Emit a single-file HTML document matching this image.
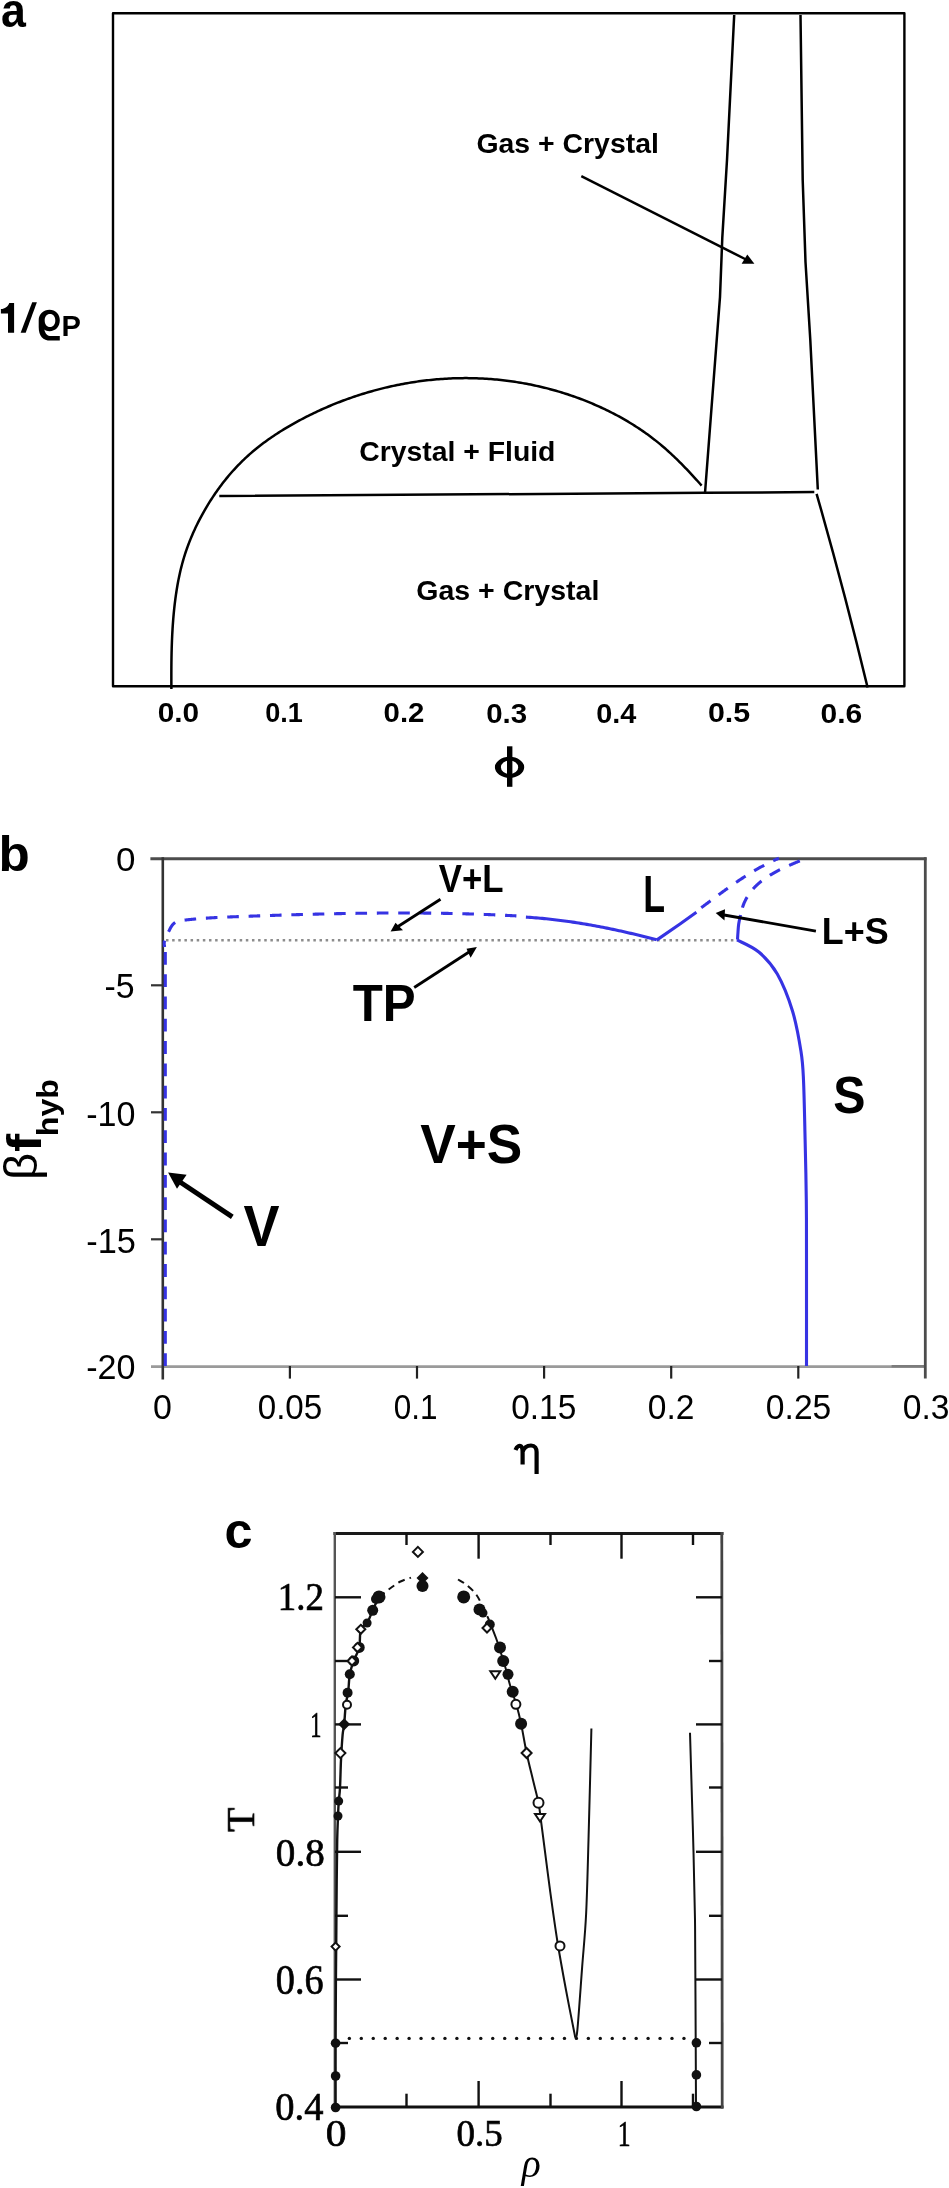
<!DOCTYPE html>
<html><head><meta charset="utf-8">
<style>
html,body{margin:0;padding:0;background:#fff;}
body{width:949px;height:2188px;overflow:hidden;}
svg{display:block;}
</style></head><body>
<svg width="949" height="2188" viewBox="0 0 949 2188">
<g fill="none" stroke="#000" stroke-linejoin="round">
<rect x="113" y="13.3" width="791.4" height="672.9" stroke-width="2.4"/>
<path d="M171.39,688.99 L171.38,686.99 L171.37,684.99 L171.36,682.99 L171.35,680.98 L171.35,678.98 L171.35,676.97 L171.35,674.97 L171.35,672.97 L171.36,670.96 L171.37,668.96 L171.38,666.95 L171.40,664.95 L171.42,662.94 L171.44,660.93 L171.47,658.93 L171.50,656.92 L171.54,654.92 L171.58,652.91 L171.63,650.90 L171.69,648.90 L171.74,646.89 L171.81,644.89 L171.88,642.88 L171.95,640.88 L172.04,638.87 L172.13,636.87 L172.22,634.87 L172.33,632.86 L172.44,630.86 L172.55,628.86 L172.68,626.86 L172.81,624.86 L172.96,622.86 L173.11,620.86 L173.26,618.86 L173.43,616.86 L173.61,614.86 L173.79,612.86 L173.99,610.87 L174.19,608.87 L174.41,606.88 L174.63,604.89 L174.87,602.89 L175.12,600.90 L175.37,598.91 L175.64,596.92 L175.92,594.94 L176.21,592.95 L176.51,590.97 L176.83,588.99 L177.16,587.01 L177.50,585.03 L177.86,583.06 L178.23,581.08 L178.61,579.12 L179.01,577.15 L179.43,575.19 L179.86,573.23 L180.30,571.28 L180.77,569.33 L181.25,567.39 L181.74,565.45 L182.26,563.51 L182.79,561.58 L183.34,559.65 L183.90,557.73 L184.49,555.82 L185.10,553.91 L185.72,552.01 L186.37,550.11 L187.03,548.22 L187.71,546.33 L188.41,544.46 L189.12,542.58 L189.86,540.72 L190.61,538.86 L191.38,537.00 L192.16,535.16 L192.96,533.32 L193.78,531.48 L194.62,529.66 L195.46,527.84 L196.33,526.03 L197.21,524.22 L198.10,522.42 L199.01,520.63 L199.93,518.85 L200.87,517.07 L201.83,515.30 L202.79,513.54 L203.77,511.79 L204.77,510.04 L205.78,508.30 L206.80,506.58 L207.84,504.86 L208.89,503.15 L209.96,501.44 L211.04,499.75 L212.13,498.07 L213.24,496.39 L214.36,494.73 L215.49,493.07 L216.64,491.43 L217.80,489.79 L218.97,488.17 L220.16,486.56 L221.36,484.95 L222.58,483.36 L223.80,481.78 L225.05,480.21 L226.30,478.65 L227.57,477.11 L228.86,475.57 L230.15,474.05 L231.46,472.54 L232.79,471.04 L234.13,469.56 L235.48,468.09 L236.84,466.63 L238.22,465.19 L239.62,463.76 L241.02,462.35 L242.45,460.94 L243.88,459.56 L245.33,458.18 L246.79,456.83 L248.27,455.48 L249.76,454.16 L251.26,452.84 L252.78,451.55 L254.31,450.26 L255.85,448.99 L257.41,447.74 L258.97,446.49 L260.55,445.27 L262.14,444.05 L263.74,442.85 L265.35,441.66 L266.97,440.49 L268.60,439.33 L270.24,438.18 L271.90,437.04 L273.56,435.91 L275.23,434.80 L276.91,433.70 L278.59,432.62 L280.29,431.54 L282.00,430.48 L283.71,429.42 L285.43,428.38 L287.15,427.35 L288.89,426.33 L290.63,425.32 L292.37,424.33 L294.13,423.34 L295.89,422.36 L297.65,421.40 L299.42,420.44 L301.20,419.49 L302.98,418.56 L304.76,417.63 L306.55,416.71 L308.35,415.81 L310.15,414.91 L311.95,414.03 L313.76,413.15 L315.58,412.29 L317.40,411.43 L319.22,410.59 L321.05,409.75 L322.88,408.93 L324.72,408.11 L326.56,407.31 L328.40,406.52 L330.25,405.73 L332.11,404.96 L333.97,404.20 L335.83,403.45 L337.69,402.70 L339.56,401.97 L341.44,401.25 L343.32,400.54 L345.20,399.84 L347.08,399.16 L348.97,398.48 L350.87,397.81 L352.76,397.15 L354.66,396.51 L356.57,395.87 L358.47,395.25 L360.38,394.64 L362.29,394.03 L364.21,393.44 L366.13,392.86 L368.05,392.29 L369.98,391.73 L371.91,391.18 L373.84,390.64 L375.77,390.12 L377.71,389.60 L379.65,389.10 L381.59,388.60 L383.54,388.12 L385.48,387.65 L387.43,387.19 L389.39,386.74 L391.34,386.30 L393.30,385.87 L395.26,385.46 L397.22,385.05 L399.19,384.66 L401.15,384.27 L403.12,383.90 L405.09,383.54 L407.06,383.20 L409.04,382.86 L411.01,382.53 L412.99,382.22 L414.97,381.92 L416.95,381.62 L418.93,381.34 L420.92,381.08 L422.90,380.82 L424.89,380.57 L426.88,380.34 L428.87,380.12 L430.86,379.91 L432.85,379.71 L434.84,379.52 L436.84,379.34 L438.83,379.18 L440.83,379.03 L442.82,378.89 L444.82,378.76 L446.82,378.64 L448.82,378.53 L450.82,378.44 L452.82,378.36 L454.82,378.29 L456.82,378.23 L458.82,378.19 L460.83,378.15 L462.83,378.13 L464.83,378.12 L466.83,378.12 L468.84,378.14 L470.84,378.16 L472.84,378.20 L474.85,378.25 L476.85,378.31 L478.85,378.39 L480.86,378.47 L482.86,378.57 L484.86,378.68 L486.86,378.81 L488.86,378.94 L490.87,379.09 L492.87,379.25 L494.87,379.42 L496.86,379.61 L498.86,379.80 L500.86,380.01 L502.85,380.23 L504.85,380.47 L506.84,380.71 L508.83,380.97 L510.82,381.24 L512.81,381.52 L514.80,381.82 L516.78,382.12 L518.77,382.44 L520.75,382.77 L522.73,383.11 L524.71,383.47 L526.68,383.83 L528.65,384.21 L530.62,384.60 L532.59,385.01 L534.56,385.42 L536.52,385.85 L538.48,386.29 L540.44,386.74 L542.40,387.20 L544.35,387.68 L546.30,388.16 L548.24,388.66 L550.18,389.17 L552.12,389.70 L554.06,390.23 L555.99,390.78 L557.92,391.34 L559.85,391.91 L561.77,392.49 L563.68,393.09 L565.60,393.70 L567.51,394.31 L569.41,394.95 L571.32,395.59 L573.21,396.24 L575.11,396.91 L576.99,397.59 L578.88,398.28 L580.76,398.98 L582.63,399.70 L584.50,400.42 L586.37,401.16 L588.23,401.91 L590.08,402.67 L591.93,403.44 L593.78,404.23 L595.61,405.03 L597.45,405.84 L599.28,406.66 L601.10,407.49 L602.92,408.34 L604.73,409.19 L606.53,410.06 L608.33,410.94 L610.13,411.83 L611.91,412.74 L613.69,413.65 L615.47,414.58 L617.23,415.52 L619.00,416.47 L620.75,417.44 L622.49,418.42 L624.23,419.40 L625.97,420.41 L627.69,421.42 L629.41,422.45 L631.12,423.49 L632.82,424.54 L634.51,425.60 L636.19,426.68 L637.87,427.77 L639.54,428.88 L641.19,429.99 L642.84,431.12 L644.49,432.26 L646.12,433.42 L647.74,434.59 L649.35,435.77 L650.96,436.96 L652.55,438.17 L654.13,439.39 L655.71,440.63 L657.27,441.88 L658.83,443.14 L660.37,444.41 L661.90,445.70 L663.43,447.00 L664.94,448.31 L666.45,449.64 L667.95,450.97 L669.43,452.32 L670.91,453.68 L672.38,455.05 L673.84,456.42 L675.30,457.81 L676.74,459.21 L678.18,460.61 L679.61,462.03 L681.03,463.45 L682.45,464.88 L683.85,466.32 L685.25,467.76 L686.65,469.21 L688.03,470.67 L689.41,472.14 L690.79,473.61 L692.15,475.09 L693.51,476.57 L694.87,478.05 L696.22,479.54 L697.56,481.04 L698.90,482.54 L700.23,484.04 L701.56,485.55" stroke-width="2.5"/>
<path d="M219.30,496.10 L705.00,492.80 L814.30,492.10" stroke-width="2.5"/>
<path d="M734.20,15.00 L727.00,160.00 L722.30,237.60 L720.00,297.00 L705.00,493.00" stroke-width="2.5"/>
<path d="M800.50,15.00 L802.70,180.00 L805.50,262.00 L810.30,340.00 L817.80,489.50" stroke-width="2.5"/>
<path d="M816.6,493.8 Q844.3,590.6 867.6,687.5" stroke-width="2.5"/>
<path d="M581.30,176.20 L746.00,259.50" stroke-width="2.5"/>
</g>
<path d="M754.4,263.8 L741.6,263.8 L747.3,254.4 Z" fill="#000"/>
<path d="M8,303 L14.1,303 L14.1,332.7 L8,332.7 L8,313.5 L0.9,313.5 L0.9,309.1 C5,309 8,306.5 9.3,303 Z" fill="#000"/>
<path d="M20.65,332.7 L25.7,332.7 L36.9,302.2 L32.2,302.2 Z" fill="#000"/>
<path fill="#000" fill-rule="evenodd" d="M49.5,309.7 C55.5,309.7 59.8,314 59.8,320.3 C59.8,326.8 55.5,331.2 49.5,331.2 C47.3,331.2 45.5,330.6 44.3,329.6 C45.5,334.5 47.5,336.1 51,336.1 L59.8,336.1 L59.8,340.6 L50.5,340.6 C43,340.6 38.7,336 38.7,327 L38.7,320.3 C38.7,314 43.5,309.7 49.5,309.7 Z M50,314 C53.2,314 55.3,316.5 55.3,320.4 C55.3,324.4 53.2,326.9 50,326.9 C46.8,326.9 44.7,324.4 44.7,320.4 C44.7,316.5 46.8,314 50,314 Z"/>
<rect x="507" y="746.3" width="5.4" height="40.5" fill="#000"/>
<path fill="#000" fill-rule="evenodd" d="M494.9,767.35 a14.65,10.55 0 1,0 29.3,0 a14.65,10.55 0 1,0 -29.3,0 Z M500.9,767.3 a8.65,6.8 0 1,0 17.3,0 a8.65,6.8 0 1,0 -17.3,0 Z"/>
<g fill="none" stroke-linecap="butt">
<line x1="151" y1="1366.6" x2="925.3" y2="1366.6" stroke="#9a9a9a" stroke-width="2.6"/>
<line x1="891.6" y1="1366.2" x2="925.3" y2="1366.2" stroke="#7c7c7c" stroke-width="2.5"/>
<line x1="150.4" y1="858.7" x2="926.5" y2="858.7" stroke="#4c4c4c" stroke-width="3"/>
<line x1="925.3" y1="857.2" x2="925.3" y2="1378.5" stroke="#4c4c4c" stroke-width="2.8"/>
<line x1="162.8" y1="857.2" x2="162.8" y2="1379.5" stroke="#333" stroke-width="2.6"/>
<line x1="151" y1="985.3" x2="162.8" y2="985.3" stroke="#333" stroke-width="2.2"/>
<line x1="151" y1="1112.3" x2="162.8" y2="1112.3" stroke="#333" stroke-width="2.2"/>
<line x1="151" y1="1239.3" x2="162.8" y2="1239.3" stroke="#333" stroke-width="2.2"/>
<line x1="289.9" y1="1366" x2="289.9" y2="1378.6" stroke="#222" stroke-width="2.2"/>
<line x1="417" y1="1366" x2="417" y2="1378.6" stroke="#222" stroke-width="2.2"/>
<line x1="544.1" y1="1366" x2="544.1" y2="1378.6" stroke="#222" stroke-width="2.2"/>
<line x1="671.2" y1="1366" x2="671.2" y2="1378.6" stroke="#222" stroke-width="2.2"/>
<line x1="798.3" y1="1366" x2="798.3" y2="1378.6" stroke="#222" stroke-width="2.2"/>
<line x1="166" y1="940.3" x2="737" y2="940.3" stroke="#8c8c8c" stroke-width="2.5" stroke-dasharray="2.5 3.64"/>
</g>
<g fill="none" stroke="#3633e3" stroke-width="3.1" stroke-linejoin="round">
<line x1="165.3" y1="951.9" x2="165.3" y2="1366" stroke-dasharray="12.8 9.5"/>
<path d="M164.60,947.00 L164.48,946.43 L164.38,945.87 L164.30,945.33 L164.25,944.79 L164.22,944.27 L164.21,943.75 L164.21,943.25 L164.24,942.75 L164.29,942.26 L164.35,941.78 L164.43,941.31 L164.53,940.84 L164.64,940.37 L164.76,939.92 L164.90,939.46 L165.05,939.01 L165.21,938.56 L165.38,938.12 L165.56,937.68 L165.75,937.23 L165.95,936.79 L166.16,936.35 L166.37,935.91 L166.59,935.47 L166.81,935.03 L167.04,934.58 L167.27,934.13 L167.50,933.68 L167.74,933.23 L167.98,932.78 L168.22,932.32 L168.47,931.86 L168.71,931.40 L168.96,930.93 L169.21,930.46 L169.45,929.98 L169.70,929.51 L169.95,929.03 L170.20,928.55 L170.45,928.08 L170.71,927.61 L170.98,927.14 L171.25,926.69 L171.52,926.24 L171.81,925.81 L172.10,925.40 L172.41,924.99 L172.72,924.61 L173.05,924.25 L173.39,923.91 L173.75,923.59 L174.11,923.29 L174.49,923.01 L174.88,922.74 L175.28,922.50 L175.69,922.27 L176.10,922.06 L176.53,921.87 L176.97,921.69 L177.41,921.52 L177.86,921.37 L178.32,921.23 L178.79,921.10 L179.26,920.98 L179.74,920.87 L180.22,920.76 L180.70,920.67 L181.19,920.58 L181.69,920.50 L182.18,920.43 L182.68,920.36 L183.18,920.29 L183.69,920.23 L184.19,920.17 L184.69,920.11 L185.19,920.05 L185.70,919.99 L186.20,919.94 L186.70,919.88 L187.21,919.82 L187.71,919.77 L188.21,919.71 L188.71,919.66 L189.22,919.61 L189.72,919.55 L190.22,919.50 L190.73,919.45 L191.23,919.40 L191.73,919.35 L192.23,919.30 L192.73,919.25 L193.24,919.20 L193.74,919.16 L194.24,919.11 L194.74,919.06 L195.25,919.02 L195.75,918.97 L196.25,918.93 L196.75,918.88 L197.25,918.84 L197.75,918.80 L198.26,918.75 L198.76,918.71 L199.26,918.67 L199.76,918.63 L200.26,918.59 L200.76,918.55 L201.27,918.51 L201.77,918.47 L202.27,918.43 L202.77,918.40 L203.27,918.36 L203.77,918.32 L204.27,918.29 L204.78,918.25 L205.28,918.22 L205.78,918.18 L206.28,918.15 L206.78,918.11 L207.28,918.08 L207.78,918.05 L208.28,918.01 L208.78,917.98 L209.29,917.95 L209.79,917.92 L210.29,917.89 L210.79,917.86 L211.29,917.83 L211.79,917.80 L212.29,917.77 L212.79,917.74 L213.29,917.71 L213.79,917.68 L214.29,917.65 L214.79,917.63 L215.30,917.60 L215.80,917.57 L216.30,917.55 L216.80,917.52 L217.30,917.49 L217.80,917.47 L218.30,917.44 L218.80,917.42 L219.30,917.39 L219.80,917.37 L220.30,917.35 L220.80,917.32 L221.30,917.30 L221.80,917.27 L222.30,917.25 L222.80,917.23 L223.30,917.21 L223.80,917.18 L224.30,917.16 L224.80,917.14 L225.31,917.12 L225.81,917.10 L226.31,917.07 L226.81,917.05 L227.31,917.03 L227.81,917.01 L228.31,916.99 L228.81,916.97 L229.31,916.95 L229.81,916.93 L230.31,916.91 L230.81,916.89 L231.31,916.87 L231.81,916.85 L232.31,916.83 L232.81,916.81 L233.31,916.79 L233.81,916.77 L234.31,916.76 L234.81,916.74 L235.31,916.72 L235.81,916.70 L236.31,916.68 L236.81,916.66 L237.31,916.64 L237.81,916.62 L238.31,916.61 L238.81,916.59 L239.31,916.57 L239.81,916.55 L240.31,916.53 L240.81,916.51 L241.31,916.50 L241.81,916.48 L242.31,916.46 L242.82,916.44 L243.32,916.42 L243.82,916.41 L244.32,916.39 L244.82,916.37 L245.32,916.35 L245.82,916.33 L246.32,916.31 L246.82,916.30 L247.32,916.28 L247.82,916.26 L248.32,916.24 L248.82,916.23 L249.32,916.21 L249.82,916.19 L250.32,916.17 L250.82,916.15 L251.32,916.14 L251.82,916.12 L252.32,916.10 L252.82,916.08 L253.32,916.07 L253.83,916.05 L254.33,916.03 L254.83,916.01 L255.33,915.99 L255.83,915.98 L256.33,915.96 L256.83,915.94 L257.33,915.92 L257.83,915.91 L258.33,915.89 L258.83,915.87 L259.33,915.86 L259.83,915.84 L260.33,915.82 L260.83,915.80 L261.33,915.79 L261.83,915.77 L262.34,915.75 L262.84,915.73 L263.34,915.72 L263.84,915.70 L264.34,915.68 L264.84,915.67 L265.34,915.65 L265.84,915.63 L266.34,915.62 L266.84,915.60 L267.34,915.58 L267.84,915.57 L268.34,915.55 L268.84,915.53 L269.35,915.51 L269.85,915.50 L270.35,915.48 L270.85,915.47 L271.35,915.45 L271.85,915.43 L272.35,915.42 L272.85,915.40 L273.35,915.38 L273.85,915.37 L274.35,915.35 L274.85,915.33 L275.35,915.32 L275.86,915.30 L276.36,915.28 L276.86,915.27 L277.36,915.25 L277.86,915.24 L278.36,915.22 L278.86,915.20 L279.36,915.19 L279.86,915.17 L280.36,915.16 L280.86,915.14 L281.36,915.12 L281.87,915.11 L282.37,915.09 L282.87,915.08 L283.37,915.06 L283.87,915.05 L284.37,915.03 L284.87,915.01 L285.37,915.00 L285.87,914.98 L286.37,914.97 L286.87,914.95 L287.38,914.94 L287.88,914.92 L288.38,914.91 L288.88,914.89 L289.38,914.88 L289.88,914.86 L290.38,914.85 L290.88,914.83 L291.38,914.82 L291.88,914.80 L292.39,914.79 L292.89,914.77 L293.39,914.76 L293.89,914.74 L294.39,914.73 L294.89,914.71 L295.39,914.70 L295.89,914.68 L296.39,914.67 L296.89,914.65 L297.40,914.64 L297.90,914.63 L298.40,914.61 L298.90,914.60 L299.40,914.58 L299.90,914.57 L300.40,914.55 L300.90,914.54 L301.40,914.53 L301.91,914.51 L302.41,914.50 L302.91,914.48 L303.41,914.47 L303.91,914.46 L304.41,914.44 L304.91,914.43 L305.41,914.42 L305.91,914.40 L306.42,914.39 L306.92,914.37 L307.42,914.36 L307.92,914.35 L308.42,914.33 L308.92,914.32 L309.42,914.31 L309.92,914.29 L310.42,914.28 L310.93,914.27 L311.43,914.26 L311.93,914.24 L312.43,914.23 L312.93,914.22 L313.43,914.20 L313.93,914.19 L314.43,914.18 L314.94,914.17 L315.44,914.15 L315.94,914.14 L316.44,914.13 L316.94,914.11 L317.44,914.10 L317.94,914.09 L318.44,914.08 L318.95,914.07 L319.45,914.05 L319.95,914.04 L320.45,914.03 L320.95,914.02 L321.45,914.00 L321.95,913.99 L322.45,913.98 L322.96,913.97 L323.46,913.96 L323.96,913.95 L324.46,913.93 L324.96,913.92 L325.46,913.91 L325.96,913.90 L326.46,913.89 L326.97,913.88 L327.47,913.87 L327.97,913.85 L328.47,913.84 L328.97,913.83 L329.47,913.82 L329.97,913.81 L330.47,913.80 L330.98,913.79 L331.48,913.78 L331.98,913.77 L332.48,913.76 L332.98,913.75 L333.48,913.74 L333.98,913.72 L334.49,913.71 L334.99,913.70 L335.49,913.69 L335.99,913.68 L336.49,913.67 L336.99,913.66 L337.49,913.65 L337.99,913.64 L338.50,913.63 L339.00,913.62 L339.50,913.61 L340.00,913.60 L340.50,913.59 L341.00,913.58 L341.50,913.58 L342.01,913.57 L342.51,913.56 L343.01,913.55 L343.51,913.54 L344.01,913.53 L344.51,913.52 L345.01,913.51 L345.51,913.50 L346.02,913.49 L346.52,913.48 L347.02,913.48 L347.52,913.47 L348.02,913.46 L348.52,913.45 L349.02,913.44 L349.53,913.43 L350.03,913.42 L350.53,913.42 L351.03,913.41 L351.53,913.40 L352.03,913.39 L352.53,913.38 L353.04,913.38 L353.54,913.37 L354.04,913.36 L354.54,913.35 L355.04,913.34 L355.54,913.34 L356.04,913.33 L356.55,913.32 L357.05,913.31 L357.55,913.31 L358.05,913.30 L358.55,913.29 L359.05,913.29 L359.55,913.28 L360.06,913.27 L360.56,913.27 L361.06,913.26 L361.56,913.25 L362.06,913.25 L362.56,913.24 L363.06,913.23 L363.57,913.23 L364.07,913.22 L364.57,913.21 L365.07,913.21 L365.57,913.20 L366.07,913.20 L366.57,913.19 L367.08,913.18 L367.58,913.18 L368.08,913.17 L368.58,913.17 L369.08,913.16 L369.58,913.16 L370.08,913.15 L370.59,913.14 L371.09,913.14 L371.59,913.13 L372.09,913.13 L372.59,913.12 L373.09,913.12 L373.59,913.11 L374.10,913.11 L374.60,913.11 L375.10,913.10 L375.60,913.10 L376.10,913.09 L376.60,913.09 L377.10,913.08 L377.61,913.08 L378.11,913.08 L378.61,913.07 L379.11,913.07 L379.61,913.06 L380.11,913.06 L380.61,913.06 L381.12,913.05 L381.62,913.05 L382.12,913.05 L382.62,913.04 L383.12,913.04 L383.62,913.04 L384.12,913.03 L384.63,913.03 L385.13,913.03 L385.63,913.02 L386.13,913.02 L386.63,913.02 L387.13,913.02 L387.63,913.01 L388.14,913.01 L388.64,913.01 L389.14,913.01 L389.64,913.00 L390.14,913.00 L390.64,913.00 L391.14,913.00 L391.65,913.00 L392.15,913.00 L392.65,912.99 L393.15,912.99 L393.65,912.99 L394.15,912.99 L394.65,912.99 L395.16,912.99 L395.66,912.99 L396.16,912.99 L396.66,912.98 L397.16,912.98 L397.66,912.98 L398.16,912.98 L398.67,912.98 L399.17,912.98 L399.67,912.98 L400.17,912.98 L400.67,912.98 L401.17,912.98 L401.67,912.98 L402.18,912.98 L402.68,912.98 L403.18,912.98 L403.68,912.98 L404.18,912.98 L404.68,912.98 L405.18,912.98 L405.69,912.98 L406.19,912.99 L406.69,912.99 L407.19,912.99 L407.69,912.99 L408.19,912.99 L408.69,912.99 L409.20,912.99 L409.70,912.99 L410.20,913.00 L410.70,913.00 L411.20,913.00 L411.70,913.00 L412.20,913.00 L412.71,913.01 L413.21,913.01 L413.71,913.01 L414.21,913.01 L414.71,913.02 L415.21,913.02 L415.71,913.02 L416.21,913.02 L416.72,913.03 L417.22,913.03 L417.72,913.03 L418.22,913.04 L418.72,913.04 L419.22,913.04 L419.72,913.05 L420.23,913.05 L420.73,913.05 L421.23,913.06 L421.73,913.06 L422.23,913.07 L422.73,913.07 L423.23,913.07 L423.73,913.08 L424.24,913.08 L424.74,913.09 L425.24,913.09 L425.74,913.10 L426.24,913.10 L426.74,913.11 L427.24,913.11 L427.75,913.12 L428.25,913.12 L428.75,913.13 L429.25,913.13 L429.75,913.14 L430.25,913.14 L430.75,913.15 L431.25,913.16 L431.76,913.16 L432.26,913.17 L432.76,913.17 L433.26,913.18 L433.76,913.19 L434.26,913.19 L434.76,913.20 L435.26,913.21 L435.77,913.21 L436.27,913.22 L436.77,913.23 L437.27,913.24 L437.77,913.24 L438.27,913.25 L438.77,913.26 L439.27,913.27 L439.78,913.27 L440.28,913.28 L440.78,913.29 L441.28,913.30 L441.78,913.31 L442.28,913.31 L442.78,913.32 L443.28,913.33 L443.79,913.34 L444.29,913.35 L444.79,913.36 L445.29,913.37 L445.79,913.38 L446.29,913.38 L446.79,913.39 L447.29,913.40 L447.79,913.41 L448.30,913.42 L448.80,913.43 L449.30,913.44 L449.80,913.45 L450.30,913.46 L450.80,913.47 L451.30,913.48 L451.80,913.49 L452.31,913.50 L452.81,913.51 L453.31,913.53 L453.81,913.54 L454.31,913.55 L454.81,913.56 L455.31,913.57 L455.81,913.58 L456.31,913.59 L456.82,913.60 L457.32,913.62 L457.82,913.63 L458.32,913.64 L458.82,913.65 L459.32,913.66 L459.82,913.68 L460.32,913.69 L460.82,913.70 L461.32,913.71 L461.83,913.73 L462.33,913.74 L462.83,913.75 L463.33,913.77 L463.83,913.78 L464.33,913.79 L464.83,913.81 L465.33,913.82 L465.83,913.83 L466.34,913.85 L466.84,913.86 L467.34,913.88 L467.84,913.89 L468.34,913.91 L468.84,913.92 L469.34,913.93 L469.84,913.95 L470.34,913.96 L470.84,913.98 L471.34,913.99 L471.85,914.01 L472.35,914.03 L472.85,914.04 L473.35,914.06 L473.85,914.07 L474.35,914.09 L474.85,914.10 L475.35,914.12 L475.85,914.14 L476.35,914.15 L476.85,914.17 L477.36,914.19 L477.86,914.20 L478.36,914.22 L478.86,914.24 L479.36,914.25 L479.86,914.27 L480.36,914.29 L480.86,914.31 L481.36,914.32 L481.86,914.34 L482.36,914.36 L482.86,914.38 L483.37,914.40 L483.87,914.41 L484.37,914.43 L484.87,914.45 L485.37,914.47 L485.87,914.49 L486.37,914.51 L486.87,914.53 L487.37,914.55 L487.87,914.57 L488.37,914.59 L488.87,914.60 L489.37,914.62 L489.88,914.64 L490.38,914.66 L490.88,914.68 L491.38,914.70 L491.88,914.73 L492.38,914.75 L492.88,914.77 L493.38,914.79 L493.88,914.81 L494.38,914.83 L494.88,914.85 L495.38,914.87 L495.88,914.89 L496.38,914.92 L496.88,914.94 L497.39,914.96 L497.89,914.98 L498.39,915.00 L498.89,915.03 L499.39,915.05 L499.89,915.07 L500.39,915.09 L500.89,915.12 L501.39,915.14 L501.89,915.16 L502.39,915.19 L502.89,915.21 L503.39,915.23 L503.89,915.26 L504.39,915.28 L504.89,915.30 L505.39,915.33 L505.90,915.35 L506.40,915.38 L506.90,915.40 L507.40,915.43 L507.90,915.45 L508.40,915.48 L508.90,915.50 L509.40,915.53 L509.90,915.55 L510.40,915.58 L510.90,915.60 L511.40,915.63 L511.90,915.65 L512.40,915.68 L512.90,915.71 L513.40,915.73 L513.90,915.76 L514.40,915.79 L514.90,915.81 L515.40,915.84 L515.90,915.87 L516.40,915.89" stroke-dasharray="11.6 9.78" stroke-dashoffset="5.26"/>
<path d="M525.91,917.15 L527.95,917.27 L529.99,917.41 L532.03,917.56 L534.07,917.71 L536.11,917.87 L538.15,918.04 L540.18,918.22 L542.22,918.40 L544.26,918.60 L546.29,918.80 L548.32,919.01 L550.36,919.22 L552.39,919.45 L554.42,919.68 L556.45,919.92 L558.48,920.17 L560.51,920.42 L562.54,920.68 L564.57,920.95 L566.60,921.23 L568.62,921.51 L570.65,921.80 L572.67,922.10 L574.70,922.40 L576.72,922.71 L578.74,923.03 L580.76,923.35 L582.78,923.68 L584.80,924.02 L586.82,924.36 L588.83,924.71 L590.85,925.07 L592.86,925.43 L594.88,925.80 L596.89,926.17 L598.90,926.55 L600.91,926.94 L602.92,927.33 L604.93,927.72 L606.93,928.13 L608.94,928.54 L610.94,928.95 L612.94,929.37 L614.95,929.79 L616.95,930.22 L618.95,930.66 L620.94,931.10 L622.94,931.55 L624.94,932.00 L626.93,932.45 L628.92,932.91 L630.91,933.38 L632.90,933.85 L634.89,934.32 L636.88,934.80 L638.87,935.28 L640.85,935.77 L642.83,936.26 L644.81,936.76 L646.79,937.26 L648.77,937.76 L650.75,938.27 L652.73,938.78 L654.70,939.30 L656.67,939.82"/>
<path d="M656.60,940.10 L680.00,924.00 L696.40,912.30"/>
<path d="M701.33,907.66 L701.73,907.36 L702.13,907.06 L702.53,906.76 L702.94,906.47 L703.34,906.17 L703.74,905.87 L704.14,905.57 L704.54,905.28 L704.94,904.98 L705.34,904.68 L705.74,904.38 L706.14,904.08 L706.54,903.79 L706.94,903.49 L707.35,903.19 L707.75,902.89 L708.15,902.59 L708.55,902.29 L708.95,901.99 L709.35,901.70 L709.75,901.40 L710.16,901.10 L710.56,900.80 L710.96,900.50 L711.36,900.20 L711.76,899.90 L712.17,899.60 L712.57,899.30 L712.97,899.01 L713.37,898.71 L713.78,898.41 L714.18,898.11 L714.58,897.81 L714.99,897.51 L715.39,897.21 L715.79,896.92 L716.20,896.62 L716.60,896.32 L717.00,896.02 L717.41,895.72 L717.81,895.43 L718.22,895.13 L718.62,894.83 L719.03,894.53 L719.43,894.24 L719.84,893.94 L720.24,893.64 L720.65,893.35 L721.05,893.05 L721.46,892.75 L721.87,892.46 L722.27,892.16 L722.68,891.87 L723.08,891.57 L723.49,891.28 L723.90,890.98 L724.31,890.69 L724.71,890.39 L725.12,890.10 L725.53,889.81 L725.94,889.51 L726.35,889.22 L726.75,888.93 L727.16,888.63 L727.57,888.34 L727.98,888.05 L728.39,887.76 L728.80,887.47 L729.21,887.18 L729.62,886.89 L730.03,886.60 L730.44,886.31 L730.85,886.02 L731.27,885.73 L731.68,885.44 L732.09,885.15 L732.50,884.87 L732.91,884.58 L733.33,884.29 L733.74,884.01 L734.15,883.72 L734.57,883.43 L734.98,883.15 L735.40,882.86 L735.81,882.58 L736.23,882.30 L736.64,882.01 L737.06,881.73 L737.47,881.45 L737.89,881.17 L738.30,880.89 L738.72,880.61 L739.14,880.33 L739.56,880.05 L739.97,879.77 L740.39,879.49 L740.81,879.22 L741.23,878.94 L741.65,878.66 L742.07,878.39 L742.49,878.11 L742.91,877.84 L743.33,877.56 L743.75,877.29 L744.17,877.02 L744.59,876.75 L745.02,876.47 L745.44,876.20 L745.86,875.93 L746.28,875.67 L746.71,875.40 L747.13,875.13 L747.56,874.86 L747.98,874.60 L748.41,874.33 L748.83,874.07 L749.26,873.80 L749.69,873.54 L750.11,873.28 L750.54,873.01 L750.97,872.75 L751.40,872.49 L751.83,872.23 L752.25,871.98 L752.68,871.72 L753.11,871.46 L753.55,871.20 L753.98,870.95 L754.41,870.69 L754.84,870.44 L755.27,870.19 L755.70,869.94 L756.14,869.69 L756.57,869.43 L757.01,869.19 L757.44,868.94 L757.88,868.69 L758.31,868.44 L758.75,868.20 L759.18,867.95 L759.62,867.71 L760.06,867.47 L760.50,867.22 L760.94,866.98 L761.37,866.74 L761.81,866.50 L762.25,866.27 L762.70,866.03 L763.14,865.79 L763.58,865.56 L764.02,865.33 L764.46,865.09 L764.91,864.86 L765.35,864.63 L765.80,864.40 L766.24,864.17 L766.69,863.94 L767.13,863.72 L767.58,863.49 L768.03,863.27 L768.47,863.04 L768.92,862.82 L769.37,862.60 L769.82,862.38 L770.27,862.16 L770.72,861.94 L771.17,861.73 L771.62,861.51 L772.08,861.30 L772.53,861.08 L772.98,860.87 L773.44,860.66 L773.89,860.45 L774.35,860.24 L774.80,860.04 L775.26,859.83 L775.72,859.63 L776.17,859.42 L776.63,859.22 L777.09,859.02 L777.55,858.82 L778.01,858.62 L778.47,858.43 L778.93,858.23" stroke-dasharray="11.4 10.1"/>
<path d="M737.50,939.70 C737.58,938.42 737.80,934.62 738.00,932.00 C738.20,929.38 738.28,926.83 738.70,924.00 C739.12,921.17 740.20,916.50 740.50,915.00"/>
<path d="M742.43,907.66 L742.59,907.15 L742.76,906.64 L742.93,906.13 L743.11,905.63 L743.29,905.14 L743.48,904.64 L743.67,904.15 L743.86,903.67 L744.06,903.19 L744.26,902.71 L744.47,902.24 L744.68,901.76 L744.90,901.30 L745.12,900.83 L745.34,900.37 L745.57,899.92 L745.81,899.46 L746.04,899.01 L746.28,898.57 L746.53,898.13 L746.78,897.69 L747.03,897.25 L747.29,896.82 L747.55,896.39 L747.81,895.96 L748.08,895.54 L748.35,895.12 L748.63,894.70 L748.91,894.29 L749.19,893.88 L749.48,893.48 L749.77,893.07 L750.06,892.67 L750.36,892.27 L750.66,891.88 L750.96,891.49 L751.27,891.10 L751.58,890.72 L751.89,890.34 L752.21,889.96 L752.53,889.58 L752.85,889.21 L753.18,888.84 L753.51,888.47 L753.84,888.11 L754.18,887.74 L754.52,887.39 L754.86,887.03 L755.20,886.68 L755.55,886.33 L755.90,885.98 L756.25,885.63 L756.61,885.29 L756.97,884.95 L757.33,884.62 L757.70,884.28 L758.06,883.95 L758.43,883.62 L758.80,883.29 L759.18,882.97 L759.56,882.65 L759.94,882.33 L760.32,882.01 L760.70,881.70 L761.09,881.39 L761.48,881.08 L761.87,880.77 L762.27,880.47 L762.66,880.16 L763.06,879.86 L763.46,879.57 L763.86,879.27 L764.27,878.98 L764.67,878.69 L765.08,878.40 L765.49,878.11 L765.91,877.83 L766.32,877.54 L766.74,877.26 L767.16,876.98 L767.58,876.71 L768.00,876.43 L768.42,876.16 L768.85,875.89 L769.27,875.62 L769.70,875.36 L770.13,875.09 L770.56,874.83 L771.00,874.57 L771.43,874.31 L771.87,874.05 L772.31,873.80 L772.74,873.54 L773.18,873.29 L773.63,873.04 L774.07,872.79 L774.51,872.55 L774.96,872.30 L775.40,872.06 L775.85,871.82 L776.30,871.58 L776.75,871.34 L777.20,871.10 L777.65,870.87 L778.10,870.63 L778.56,870.40 L779.01,870.17 L779.47,869.94 L779.92,869.71 L780.38,869.48 L780.84,869.26 L781.29,869.04 L781.75,868.81 L782.21,868.59 L782.67,868.37 L783.13,868.15 L783.59,867.93 L784.06,867.72 L784.52,867.50 L784.98,867.29 L785.44,867.08 L785.91,866.86 L786.37,866.65 L786.83,866.44 L787.30,866.23 L787.76,866.03 L788.22,865.82 L788.69,865.61 L789.15,865.41 L789.62,865.21 L790.08,865.00 L790.54,864.80 L791.01,864.60 L791.47,864.40 L791.94,864.20 L792.40,864.00 L792.86,863.80 L793.33,863.61 L793.79,863.41 L794.25,863.21 L794.72,863.02 L795.18,862.83 L795.64,862.63 L796.10,862.44 L796.56,862.25 L797.02,862.05 L797.48,861.86 L797.94,861.67 L798.40,861.48 L798.86,861.29 L799.31,861.10 L799.77,860.91 L800.22,860.73 L800.68,860.54 L801.13,860.35 L801.58,860.16 L802.04,859.97 L802.49,859.79 L802.94,859.60" stroke-dasharray="11.6 10.1"/>
<path d="M737.00,939.90 C740.63,941.92 752.08,946.32 758.80,952.00 C765.52,957.68 771.68,964.17 777.30,974.00 C782.92,983.83 788.55,998.08 792.50,1011.00 C796.45,1023.92 799.17,1040.00 801.00,1051.50 C802.83,1063.00 802.82,1065.38 803.50,1080.00 C804.18,1094.62 804.63,1119.20 805.10,1139.20 C805.57,1159.20 806.07,1179.87 806.30,1200.00 C806.53,1220.13 806.47,1232.33 806.50,1260.00 C806.53,1287.67 806.50,1348.33 806.50,1366.00"/>
</g>
<g stroke="#000" fill="none" stroke-width="2.8">
<line x1="440.5" y1="899.3" x2="398" y2="926.5"/>
<line x1="414.2" y1="987.5" x2="469" y2="952"/>
<line x1="815.9" y1="931.1" x2="724" y2="915"/>
<line x1="232.3" y1="1216.8" x2="180" y2="1182" stroke-width="5"/>
</g>
<path d="M390.6,931.4 L395.5,922.8 L403,930.2 Z" fill="#000"/>
<path d="M476.9,947 L466.5,948.8 L470.6,957.8 Z" fill="#000"/>
<path d="M715.7,913 L725,909.3 L724.5,920.5 Z" fill="#000"/>
<path d="M168.1,1172.5 L186.6,1174.8 L177,1188.8 Z" fill="#000"/>
<path d="M515.5,1450 C517,1446 519.5,1445.3 521,1446.3 C522.5,1447.3 522.6,1450 522.6,1453 L522.6,1464.5 M522.6,1452 C524,1447.5 527.5,1445.5 531,1445.5 C535,1445.5 536.6,1448.5 536.6,1452 L536.6,1474" fill="none" stroke="#000" stroke-width="4.2"/>
<g fill="none" stroke="#111" stroke-width="2.8">
<line x1="333.5" y1="1533.5" x2="723.5" y2="1533.5" stroke="#1a1a1a" stroke-width="3.2"/>
<line x1="333.5" y1="2107" x2="723.5" y2="2107" stroke="#111" stroke-width="3"/>
<line x1="334.8" y1="1532" x2="334.8" y2="2108.5" stroke="#555" stroke-width="2.4"/>
<line x1="721.8" y1="1532" x2="722.2" y2="2108.5" stroke="#444" stroke-width="2.8"/>
<line x1="335" y1="1597.3" x2="361" y2="1597.3" stroke-width="2.4"/>
<line x1="722" y1="1597.3" x2="696" y2="1597.3" stroke-width="2.4"/>
<line x1="335" y1="1724.4" x2="361" y2="1724.4" stroke-width="2.4"/>
<line x1="722" y1="1724.4" x2="696" y2="1724.4" stroke-width="2.4"/>
<line x1="335" y1="1851.8" x2="361" y2="1851.8" stroke-width="2.4"/>
<line x1="722" y1="1851.8" x2="696" y2="1851.8" stroke-width="2.4"/>
<line x1="335" y1="1979.5" x2="361" y2="1979.5" stroke-width="2.4"/>
<line x1="722" y1="1979.5" x2="696" y2="1979.5" stroke-width="2.4"/>
<line x1="335" y1="1661" x2="348" y2="1661" stroke-width="2.4"/>
<line x1="722" y1="1661" x2="709" y2="1661" stroke-width="2.4"/>
<line x1="335" y1="1787.5" x2="348" y2="1787.5" stroke-width="2.4"/>
<line x1="722" y1="1787.5" x2="709" y2="1787.5" stroke-width="2.4"/>
<line x1="335" y1="1915.8" x2="348" y2="1915.8" stroke-width="2.4"/>
<line x1="722" y1="1915.8" x2="709" y2="1915.8" stroke-width="2.4"/>
<line x1="335" y1="2043" x2="348" y2="2043" stroke-width="2.4"/>
<line x1="722" y1="2043" x2="709" y2="2043" stroke-width="2.4"/>
<line x1="478.6" y1="1533.5" x2="478.6" y2="1558.7" stroke-width="2.4"/>
<line x1="478.6" y1="2107" x2="478.6" y2="2081" stroke-width="2.4"/>
<line x1="621.5" y1="1533.5" x2="621.5" y2="1558.7" stroke-width="2.4"/>
<line x1="621.5" y1="2107" x2="621.5" y2="2081" stroke-width="2.4"/>
<line x1="406.5" y1="1533.5" x2="406.5" y2="1545" stroke-width="2.4"/>
<line x1="406.5" y1="2107" x2="406.5" y2="2093.7" stroke-width="2.4"/>
<line x1="550.5" y1="1533.5" x2="550.5" y2="1545" stroke-width="2.4"/>
<line x1="550.5" y1="2107" x2="550.5" y2="2093.7" stroke-width="2.4"/>
<line x1="693" y1="1533.5" x2="693" y2="1545" stroke-width="2.4"/>
<line x1="693" y1="2107" x2="693" y2="2093.7" stroke-width="2.4"/>
</g>
<g fill="none" stroke="#111" stroke-width="2.0" stroke-linejoin="round">
<path d="M335.60,2107.00 C335.60,2096.33 335.55,2064.17 335.60,2043.00 C335.65,2021.83 335.80,1996.07 335.90,1980.00 C336.00,1963.93 336.07,1963.27 336.20,1946.60 C336.33,1929.93 336.53,1897.77 336.70,1880.00 C336.87,1862.23 336.98,1850.67 337.20,1840.00 C337.42,1829.33 337.73,1822.50 338.00,1816.00 C338.27,1809.50 338.47,1805.67 338.80,1801.00 C339.13,1796.33 339.63,1794.83 340.00,1788.00 C340.37,1781.17 340.57,1768.83 341.00,1760.00 C341.43,1751.17 342.07,1741.00 342.60,1735.00 C343.13,1729.00 343.67,1729.12 344.20,1724.00 C344.73,1718.88 345.13,1709.68 345.80,1704.30 C346.47,1698.92 347.53,1696.70 348.20,1691.70 C348.87,1686.70 348.88,1679.43 349.80,1674.30 C350.72,1669.17 352.13,1665.38 353.70,1660.90 C355.27,1656.42 358.02,1652.67 359.20,1647.40 C360.38,1642.13 359.48,1633.37 360.80,1629.30 C362.12,1625.23 365.12,1626.17 367.10,1623.00 C369.08,1619.83 370.72,1614.65 372.70,1610.30 C374.68,1605.95 377.95,1599.13 379.00,1596.90" stroke-width="2.4"/>
<path d="M379.00,1596.90 C380.83,1595.50 386.42,1591.07 390.00,1588.50 C393.58,1585.93 397.00,1583.32 400.50,1581.50 C404.00,1579.68 409.25,1578.25 411.00,1577.60" stroke-dasharray="7 5"/>
<path d="M458.00,1579.50 C459.33,1580.33 463.07,1582.13 466.00,1584.50 C468.93,1586.87 472.93,1590.28 475.60,1593.70 C478.27,1597.12 479.77,1600.62 482.00,1605.00 C484.23,1609.38 487.83,1617.50 489.00,1620.00" stroke-dasharray="7 5"/>
<path d="M489.00,1620.00 C490.17,1623.00 494.17,1633.00 496.00,1638.00 C497.83,1643.00 498.50,1645.33 500.00,1650.00 C501.50,1654.67 503.33,1660.17 505.00,1666.00 C506.67,1671.83 508.10,1678.55 510.00,1685.00 C511.90,1691.45 514.55,1698.25 516.40,1704.70 C518.25,1711.15 519.40,1715.65 521.10,1723.70 C522.80,1731.75 524.62,1743.62 526.60,1753.00 C528.58,1762.38 531.02,1771.72 533.00,1780.00 C534.98,1788.28 537.25,1796.53 538.50,1802.70 C539.75,1808.87 539.67,1810.78 540.50,1817.00 C541.33,1823.22 541.92,1827.83 543.50,1840.00 C545.08,1852.17 547.67,1873.00 550.00,1890.00 C552.33,1907.00 554.83,1925.33 557.50,1942.00 C560.17,1958.67 563.03,1974.07 566.00,1990.00 C568.97,2005.93 573.75,2029.67 575.30,2037.60"/>
<path d="M575.30,2037.60 C575.65,2036.28 576.25,2041.57 577.40,2029.70 C578.55,2017.83 580.75,1985.63 582.20,1966.40 C583.65,1947.17 585.05,1935.37 586.10,1914.30 C587.15,1893.23 587.62,1870.97 588.50,1840.00 C589.38,1809.03 590.92,1747.08 591.40,1728.50"/>
<path d="M690.00,1732.70 C690.33,1743.92 691.42,1780.17 692.00,1800.00 C692.58,1819.83 693.00,1831.70 693.50,1851.70 C694.00,1871.70 694.67,1895.28 695.00,1920.00 C695.33,1944.72 695.33,1968.83 695.50,2000.00 C695.67,2031.17 695.92,2089.17 696.00,2107.00"/>
</g>
<g fill="#111"><circle cx="349.35" cy="2038.4" r="1.7"/><circle cx="361.30" cy="2038.4" r="1.7"/><circle cx="373.25" cy="2038.4" r="1.7"/><circle cx="385.20" cy="2038.4" r="1.7"/><circle cx="397.15" cy="2038.4" r="1.7"/><circle cx="409.10" cy="2038.4" r="1.7"/><circle cx="421.05" cy="2038.4" r="1.7"/><circle cx="433.00" cy="2038.4" r="1.7"/><circle cx="444.95" cy="2038.4" r="1.7"/><circle cx="456.90" cy="2038.4" r="1.7"/><circle cx="468.85" cy="2038.4" r="1.7"/><circle cx="480.80" cy="2038.4" r="1.7"/><circle cx="492.75" cy="2038.4" r="1.7"/><circle cx="504.70" cy="2038.4" r="1.7"/><circle cx="516.65" cy="2038.4" r="1.7"/><circle cx="528.60" cy="2038.4" r="1.7"/><circle cx="540.55" cy="2038.4" r="1.7"/><circle cx="552.50" cy="2038.4" r="1.7"/><circle cx="564.45" cy="2038.4" r="1.7"/><circle cx="576.40" cy="2038.4" r="1.7"/><circle cx="588.35" cy="2038.4" r="1.7"/><circle cx="600.30" cy="2038.4" r="1.7"/><circle cx="612.25" cy="2038.4" r="1.7"/><circle cx="624.20" cy="2038.4" r="1.7"/><circle cx="636.15" cy="2038.4" r="1.7"/><circle cx="648.10" cy="2038.4" r="1.7"/><circle cx="660.05" cy="2038.4" r="1.7"/><circle cx="672.00" cy="2038.4" r="1.7"/><circle cx="683.95" cy="2038.4" r="1.7"/></g>
<circle cx="335.6" cy="2043.2" r="4.8" fill="#111"/><circle cx="335.6" cy="2076" r="4.8" fill="#111"/><circle cx="335.6" cy="2107.5" r="4.8" fill="#111"/><circle cx="696.4" cy="2042.8" r="4.8" fill="#111"/><circle cx="696.4" cy="2074.9" r="4.8" fill="#111"/><circle cx="696.4" cy="2106.5" r="4.8" fill="#111"/><path d="M335.6,1942.6 L339.6,1946.6 L335.6,1950.6 L331.6,1946.6 Z" fill="#fff" stroke="#111" stroke-width="2"/><circle cx="338" cy="1816" r="4.5" fill="#111"/><circle cx="338.7" cy="1801.1" r="4.5" fill="#111"/><path d="M340.4,1748.1 L345.4,1753.1 L340.4,1758.1 L335.4,1753.1 Z" fill="#fff" stroke="#111" stroke-width="2"/><path d="M344.2,1718.3 L350.2,1724.3 L344.2,1730.3 L338.2,1724.3 Z" fill="#111"/><circle cx="347" cy="1704.7" r="4" fill="#fff" stroke="#111" stroke-width="2"/><circle cx="347.6" cy="1692.7" r="5" fill="#111"/><circle cx="349.8" cy="1674.3" r="5" fill="#111"/><circle cx="353.7" cy="1660.9" r="5.5" fill="#111"/><path d="M352,1656.5 L356.5,1661 L352,1665.5 L347.5,1661 Z" fill="#fff" stroke="#111" stroke-width="2"/><circle cx="359.2" cy="1647.4" r="5.5" fill="#111"/><path d="M357.5,1642.9 L362.0,1647.4 L357.5,1651.9 L353.0,1647.4 Z" fill="#fff" stroke="#111" stroke-width="2"/><path d="M360.8,1624.8 L365.3,1629.3 L360.8,1633.8 L356.3,1629.3 Z" fill="#fff" stroke="#111" stroke-width="2"/><circle cx="367.1" cy="1623" r="4.5" fill="#111"/><circle cx="372.7" cy="1610.3" r="5.5" fill="#111"/><circle cx="379" cy="1596.9" r="6.5" fill="#111"/><circle cx="376" cy="1599" r="5" fill="#111"/><path d="M422.5,1572 L428.5,1578 L422.5,1584 L416.5,1578 Z" fill="#111"/><circle cx="422.5" cy="1586" r="6" fill="#111"/><path d="M417.9,1546.9 L422.9,1551.9 L417.9,1556.9 L412.9,1551.9 Z" fill="#fff" stroke="#111" stroke-width="2"/><circle cx="463.7" cy="1596.9" r="6.5" fill="#111"/><circle cx="479.5" cy="1609.5" r="6" fill="#111"/><circle cx="483" cy="1613" r="4.5" fill="#111"/><circle cx="489.8" cy="1624.5" r="5" fill="#111"/><path d="M487,1623.5 L491.5,1628 L487,1632.5 L482.5,1628 Z" fill="#fff" stroke="#111" stroke-width="2"/><circle cx="500" cy="1647.4" r="6" fill="#111"/><circle cx="503.2" cy="1660.9" r="6" fill="#111"/><path d="M490.3,1671.3 L500.3,1671.3 L495.3,1678.8 Z" fill="#fff" stroke="#111" stroke-width="2"/><circle cx="508" cy="1674.3" r="5.5" fill="#111"/><circle cx="512.7" cy="1691.7" r="6" fill="#111"/><circle cx="515.9" cy="1704.3" r="4.5" fill="#fff" stroke="#111" stroke-width="2"/><circle cx="521.1" cy="1723.7" r="6" fill="#111"/><path d="M526.6,1748 L531.6,1753 L526.6,1758 L521.6,1753 Z" fill="#fff" stroke="#111" stroke-width="2"/><circle cx="538.5" cy="1802.7" r="5" fill="#fff" stroke="#111" stroke-width="2"/><path d="M535,1814.0 L545,1814.0 L540,1821.5 Z" fill="#fff" stroke="#111" stroke-width="2"/><circle cx="560" cy="1945.9" r="4.5" fill="#fff" stroke="#111" stroke-width="2"/>
<g fill="#000" style="will-change:transform">
<text transform="translate(1.06,26.92) scale(0.925,1)" font-size="48.36" font-family="Liberation Sans" font-weight="bold">a</text>
<text transform="translate(476.46,152.80) scale(1.015,1)" font-size="28.00" font-family="Liberation Sans" font-weight="bold">Gas + Crystal</text>
<text transform="translate(359.27,461.00) scale(1.013,1)" font-size="28.00" font-family="Liberation Sans" font-weight="bold">Crystal + Fluid</text>
<text transform="translate(416.26,600.40) scale(1.019,1)" font-size="28.00" font-family="Liberation Sans" font-weight="bold">Gas + Crystal</text>
<text transform="translate(157.71,721.72) scale(1.081,1)" font-size="27.61" font-family="Liberation Sans" font-weight="bold">0.0</text>
<text transform="translate(265.22,721.72) scale(0.980,1)" font-size="27.61" font-family="Liberation Sans" font-weight="bold">0.1</text>
<text transform="translate(383.62,722.13) scale(1.076,1)" font-size="27.32" font-family="Liberation Sans" font-weight="bold">0.2</text>
<text transform="translate(486.22,723.23) scale(1.101,1)" font-size="26.76" font-family="Liberation Sans" font-weight="bold">0.3</text>
<text transform="translate(596.24,723.22) scale(1.046,1)" font-size="27.61" font-family="Liberation Sans" font-weight="bold">0.4</text>
<text transform="translate(707.88,721.72) scale(1.100,1)" font-size="27.61" font-family="Liberation Sans" font-weight="bold">0.5</text>
<text transform="translate(820.50,723.22) scale(1.087,1)" font-size="27.61" font-family="Liberation Sans" font-weight="bold">0.6</text>
<text transform="translate(61.46,335.60) scale(1.014,1)" font-size="28.70" font-family="Liberation Sans" font-weight="bold">P</text>
<text transform="translate(-1.38,870.50) scale(1.032,1)" font-size="49.59" font-family="Liberation Sans" font-weight="bold">b</text>
<text transform="translate(116.00,870.77) scale(1.049,1)" font-size="33.38" font-family="Liberation Sans">0</text>
<text transform="translate(104.45,998.44) scale(0.943,1)" font-size="35.86" font-family="Liberation Sans">-5</text>
<text transform="translate(86.24,1125.65) scale(0.972,1)" font-size="35.07" font-family="Liberation Sans">-10</text>
<text transform="translate(86.23,1252.64) scale(0.965,1)" font-size="35.57" font-family="Liberation Sans">-15</text>
<text transform="translate(86.24,1379.15) scale(0.980,1)" font-size="34.79" font-family="Liberation Sans">-20</text>
<text transform="translate(152.94,1419.24) scale(0.953,1)" font-size="35.63" font-family="Liberation Sans">0</text>
<text transform="translate(257.67,1419.24) scale(0.932,1)" font-size="35.63" font-family="Liberation Sans">0.05</text>
<text transform="translate(393.64,1419.24) scale(0.883,1)" font-size="35.63" font-family="Liberation Sans">0.1</text>
<text transform="translate(511.26,1419.44) scale(0.938,1)" font-size="35.63" font-family="Liberation Sans">0.15</text>
<text transform="translate(647.86,1419.25) scale(0.945,1)" font-size="35.49" font-family="Liberation Sans">0.2</text>
<text transform="translate(765.86,1419.25) scale(0.947,1)" font-size="35.49" font-family="Liberation Sans">0.25</text>
<text transform="translate(902.75,1419.25) scale(0.948,1)" font-size="35.49" font-family="Liberation Sans">0.3</text>
<text transform="translate(438.65,891.90) scale(0.914,1)" font-size="38.12" font-family="Liberation Sans" font-weight="bold">V+L</text>
<text transform="translate(643.30,912.20) scale(0.696,1)" font-size="51.30" font-family="Liberation Sans" font-weight="bold">L</text>
<text transform="translate(821.79,944.43) scale(0.969,1)" font-size="37.04" font-family="Liberation Sans" font-weight="bold">L+S</text>
<text transform="translate(352.71,1021.10) scale(0.950,1)" font-size="51.88" font-family="Liberation Sans" font-weight="bold">TP</text>
<text transform="translate(833.25,1113.38) scale(0.925,1)" font-size="52.25" font-family="Liberation Sans" font-weight="bold">S</text>
<text transform="translate(420.17,1162.85) scale(0.959,1)" font-size="55.49" font-family="Liberation Sans" font-weight="bold">V+S</text>
<text transform="translate(243.56,1246.30) scale(0.953,1)" font-size="56.67" font-family="Liberation Sans" font-weight="bold">V</text>
<text transform="translate(224.38,1547.90) scale(1.012,1)" font-size="49.82" font-family="Liberation Sans" font-weight="bold">c</text>
<text transform="translate(277.79,1610.01) scale(0.942,1)" font-size="39.10" font-family="Liberation Serif" stroke="#000" stroke-width="0.7">1.2</text>
<text transform="translate(310.19,1736.90) scale(0.621,1)" font-size="35.91" font-family="Liberation Serif" stroke="#000" stroke-width="0.7">1</text>
<text transform="translate(275.83,1865.68) scale(0.957,1)" font-size="40.90" font-family="Liberation Serif" stroke="#000" stroke-width="0.7">0.8</text>
<text transform="translate(275.87,1993.66) scale(0.913,1)" font-size="41.94" font-family="Liberation Serif" stroke="#000" stroke-width="0.7">0.6</text>
<text transform="translate(275.36,2120.28) scale(0.941,1)" font-size="40.90" font-family="Liberation Serif" stroke="#000" stroke-width="0.7">0.4</text>
<text transform="translate(325.74,2145.63) scale(1.076,1)" font-size="38.51" font-family="Liberation Serif" stroke="#000" stroke-width="0.7">0</text>
<text transform="translate(456.52,2145.64) scale(0.974,1)" font-size="37.91" font-family="Liberation Serif" stroke="#000" stroke-width="0.7">0.5</text>
<text transform="translate(617.69,2145.70) scale(0.710,1)" font-size="36.21" font-family="Liberation Serif" stroke="#000" stroke-width="0.7">1</text>
<text transform="translate(521.79,2177.29) scale(1.012,1)" font-size="39.12" font-family="Liberation Serif" font-style="italic">ρ</text>
<text transform="translate(37.49,1180.09) rotate(-90) scale(1.028,1)" font-size="45.74" font-family="Liberation Sans">β</text>
<text transform="translate(41.40,1152.08) rotate(-90) scale(1.137,1)" font-size="47.67" font-family="Liberation Sans" font-weight="bold">f</text>
<text transform="translate(58.00,1136.26) rotate(-90) scale(1.081,1)" font-size="29.80" font-family="Liberation Sans" font-weight="bold">hyb</text>
<text transform="translate(254.10,1831.90) rotate(-90) scale(1.016,1)" font-size="39.38" font-family="Liberation Serif" stroke="#000" stroke-width="0.7">T</text>
</g>
</svg>
</body></html>
